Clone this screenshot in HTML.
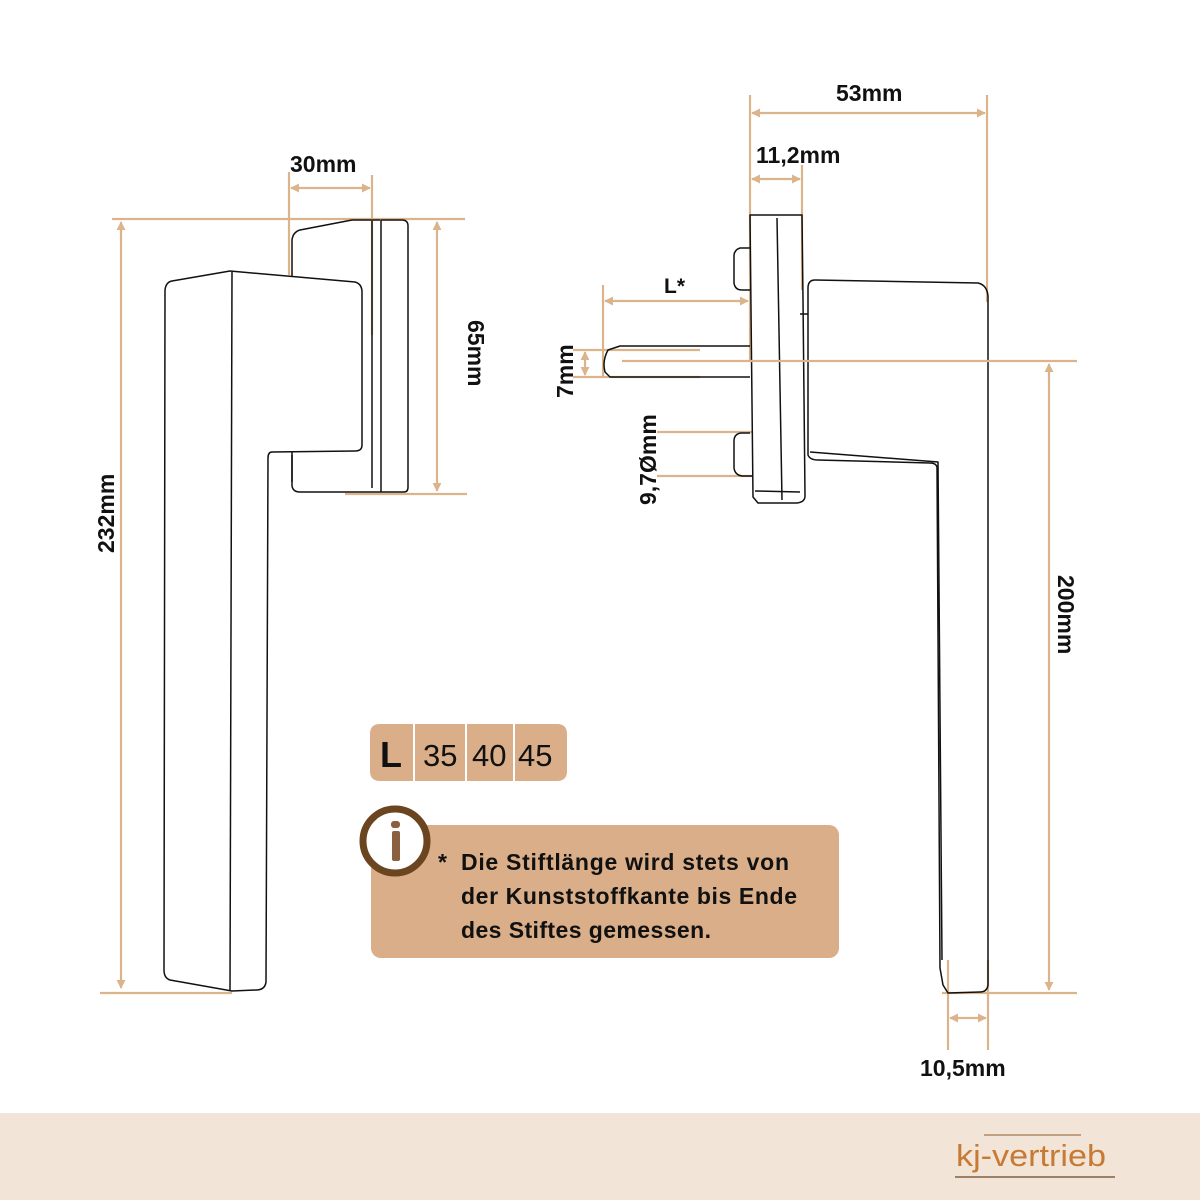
<!DOCTYPE html>
<html><head><meta charset="utf-8"><style>
html,body{margin:0;padding:0;background:#fff}
svg{display:block}
text{font-family:"Liberation Sans",sans-serif}
</style></head><body>
<svg width="1200" height="1200" viewBox="0 0 1200 1200" xmlns="http://www.w3.org/2000/svg">
<defs>
<marker id="a" viewBox="0 0 10 10" refX="9" refY="5" markerWidth="9" markerHeight="9" orient="auto-start-reverse" markerUnits="userSpaceOnUse"><path d="M0,0 L10,5 L0,10 z" fill="#dcb48c"/></marker>
</defs>
<rect width="1200" height="1200" fill="#fff"/>
<g fill="none" stroke="#dcb48c" stroke-width="2.2">
<line x1="112" y1="219" x2="465" y2="219"/>
<line x1="100" y1="993" x2="232" y2="993"/>
<line x1="121" y1="222" x2="121" y2="988" marker-start="url(#a)" marker-end="url(#a)"/>
<line x1="289" y1="172" x2="289" y2="275"/>
<line x1="372" y1="175" x2="372" y2="335"/>
<line x1="291" y1="188" x2="370" y2="188" marker-start="url(#a)" marker-end="url(#a)"/>
<line x1="437" y1="222" x2="437" y2="491" marker-start="url(#a)" marker-end="url(#a)"/>
<line x1="345" y1="494" x2="467" y2="494"/>
<line x1="750" y1="95" x2="750" y2="360"/>
<line x1="987" y1="95" x2="987" y2="302"/>
<line x1="752" y1="113" x2="985" y2="113" marker-start="url(#a)" marker-end="url(#a)"/>
<line x1="802" y1="165" x2="802" y2="290"/>
<line x1="752" y1="179" x2="800" y2="179" marker-start="url(#a)" marker-end="url(#a)"/>
<line x1="603" y1="285" x2="603" y2="378"/>
<line x1="605" y1="301" x2="748" y2="301" marker-start="url(#a)" marker-end="url(#a)"/>
<line x1="573" y1="350" x2="700" y2="350"/>
<line x1="573" y1="377" x2="700" y2="377"/>
<line x1="585" y1="352" x2="585" y2="375" marker-start="url(#a)" marker-end="url(#a)"/>
<line x1="657" y1="432" x2="752" y2="432"/>
<line x1="657" y1="476" x2="752" y2="476"/>
<line x1="1049" y1="364" x2="1049" y2="990" marker-start="url(#a)" marker-end="url(#a)"/>
<line x1="942" y1="993" x2="1077" y2="993"/>
<line x1="948" y1="960" x2="948" y2="1050"/>
<line x1="988" y1="960" x2="988" y2="1050"/>
<line x1="950" y1="1018" x2="986" y2="1018" marker-start="url(#a)" marker-end="url(#a)"/>
</g>
<g fill="none" stroke="#111" stroke-width="1.5" stroke-linejoin="round">
<path d="M292,482 L292,240 Q293,232 300,230 L352,220 L380,220"/>
<path d="M292,455 L292,486 Q293,492 300,492 L404,492 Q408,492 408,487 L408,226 Q408,220 402,220 L381,220 L381,492"/>
<line x1="372" y1="221" x2="372" y2="488"/>
<path d="M165,290 Q166,282 172,281 L230,271 L355,282 Q362,284 362,292 L362,445 Q362,451 355,451 L272,452 Q268,452 268,458 L266,982 Q265,990 256,990 L232,991 L170,980 Q164,978 164,970 Z" fill="#fff"/>
<line x1="232" y1="272" x2="230" y2="990"/>
<path d="M750,248 L740,248 Q734,250 734,256 L734,283 Q735,290 742,290 L750,290"/>
<path d="M750,433 L741,433 Q734,434 734,441 L734,468 Q735,475 742,476 L752,476"/>
<path d="M750,346 L620,346 L608,350 Q602,361 605,372 L610,377 L750,377"/>
<path d="M750,215 L802,215 L803,300 L805,496 Q805,502 797,503 L758,503 L753,497 Z"/>
<line x1="777" y1="218" x2="782" y2="500"/>
<line x1="755" y1="491" x2="800" y2="492"/>
<line x1="800" y1="314" x2="808" y2="314"/>
<path d="M808,288 Q808,280 815,280 L978,283 Q987,285 988,296 L988,985 Q987,992 980,992 L948,993 L943,985 L940,968 L937,467 Q936,463 930,463 L818,460 Q810,460 808,455 Z"/>
<path d="M810,452 L938,462 L942,960"/>
</g>
<line x1="622" y1="361" x2="1077" y2="361" stroke="#dcb48c" stroke-width="2.2"/>
<g font-weight="bold" font-size="23" fill="#111">
<text x="290" y="172">30mm</text>
<text x="836" y="101">53mm</text>
<text x="756" y="163">11,2mm</text>
<text x="664" y="293" font-size="21">L*</text>
<text x="920" y="1076">10,5mm</text>
<text transform="translate(114,553) rotate(-90)">232mm</text>
<text transform="translate(468,320) rotate(90)">65mm</text>
<text transform="translate(573,398) rotate(-90)">7mm</text>
<text transform="translate(656,505) rotate(-90)">9,7Ømm</text>
<text transform="translate(1058,575) rotate(90)">200mm</text>
</g>
<g fill="#d9ae88">
<path d="M380,724 L413,724 L413,781 L380,781 Q370,781 370,771 L370,734 Q370,724 380,724Z"/>
<rect x="415" y="724" width="50" height="57"/>
<rect x="467" y="724" width="46" height="57"/>
<path d="M515,724 L557,724 Q567,724 567,734 L567,771 Q567,781 557,781 L515,781Z"/>
</g>
<text x="380" y="767" font-size="36" font-weight="bold" fill="#111">L</text>
<g font-size="31" fill="#111"><text x="423" y="766">35</text><text x="472" y="766">40</text><text x="518" y="766">45</text></g>
<rect x="371" y="825" width="468" height="133" rx="10" fill="#d9ae88"/>
<circle cx="395" cy="841" r="32" fill="#fff" stroke="#6b4420" stroke-width="7"/>
<rect x="391" y="821" width="9" height="7" rx="3" fill="#8a6040"/>
<rect x="392" y="831" width="8" height="30" rx="2" fill="#8a6040"/>
<g font-size="23" font-weight="bold" fill="#111">
<text x="438" y="870">*</text>
<text x="461" y="870" textLength="328" lengthAdjust="spacing">Die Stiftlänge wird stets von</text>
<text x="461" y="904" textLength="336" lengthAdjust="spacing">der Kunststoffkante bis Ende</text>
<text x="461" y="938" textLength="250" lengthAdjust="spacing">des Stiftes gemessen.</text>
</g>
<rect x="0" y="1113" width="1200" height="87" fill="#f2e5d7"/>
<line x1="984" y1="1135" x2="1081" y2="1135" stroke="#8a5a2c" stroke-width="1"/>
<line x1="955" y1="1177" x2="1115" y2="1177" stroke="#6b4420" stroke-width="1.2"/>
<text x="956" y="1166" font-size="31" fill="#c77a35" textLength="150" lengthAdjust="spacingAndGlyphs">kj-vertrieb</text>
</svg>
</body></html>
